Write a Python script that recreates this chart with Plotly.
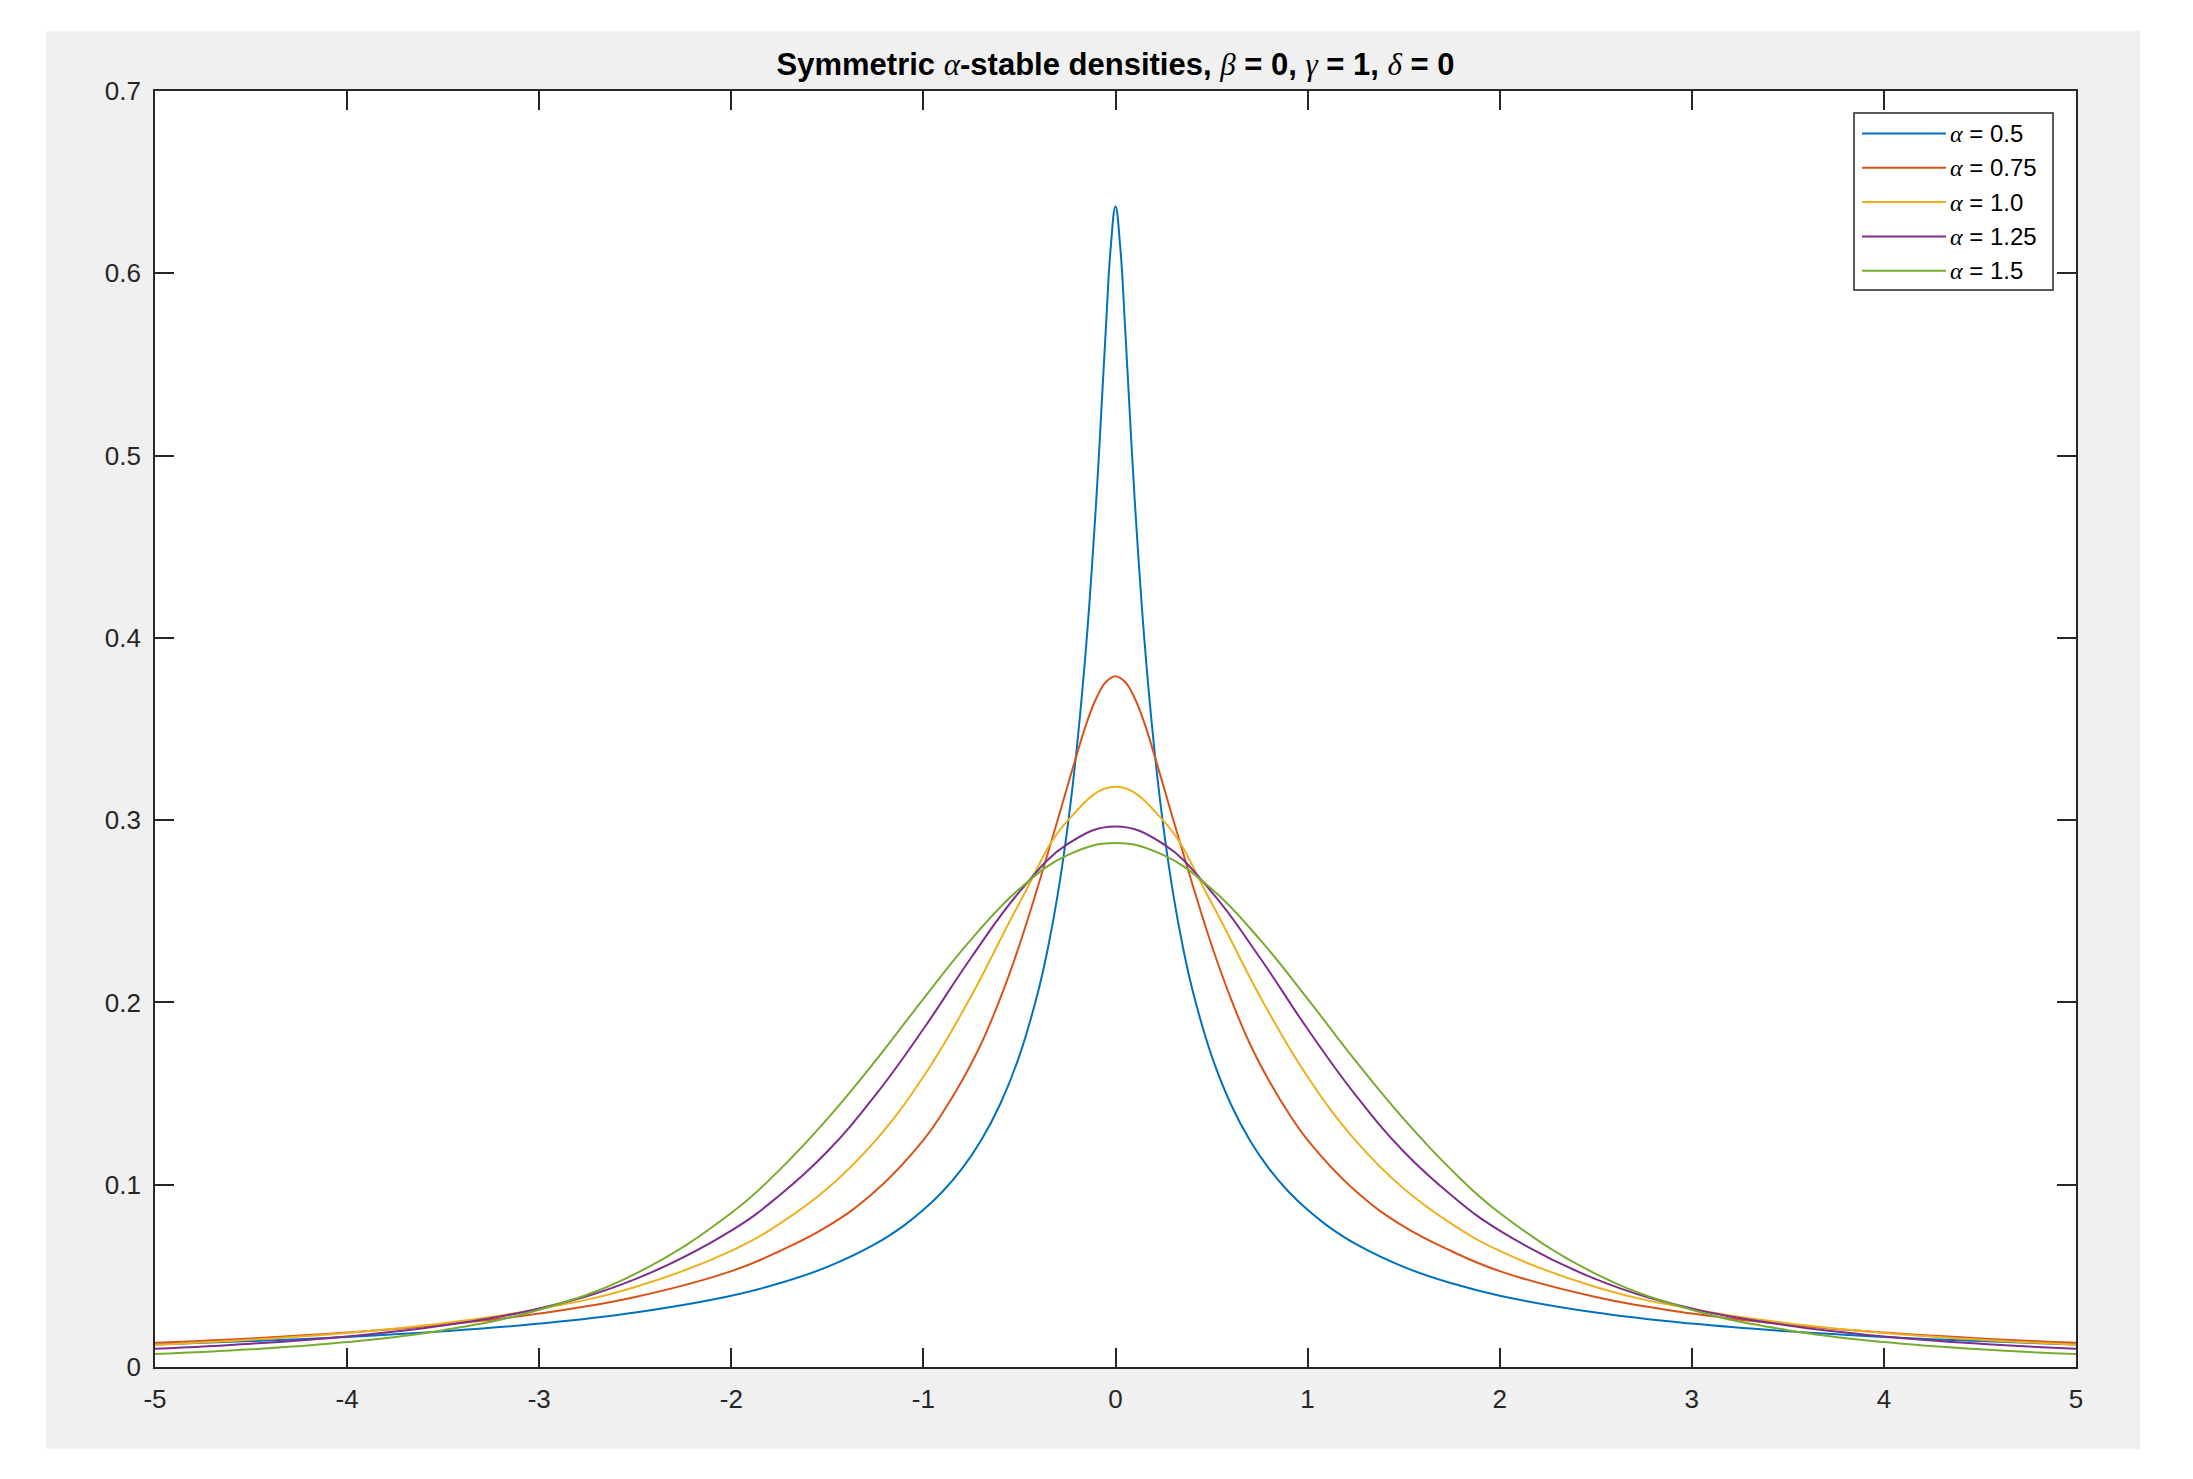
"""
Symmetric alpha-stable densities (beta = 0, gamma = 1, delta = 0),
redrawn in Plotly in the look of a MATLAB figure window.
"""

import plotly.graph_objects as go


# ── Data ──────────────────────────────────────────────────────────────────────

X_A050 = [-5, -4.5, -4, -3.5, -3, -2.5, -2, -1.75, -1.5, -1.25, -1.1, -1, -0.9,
          -0.8, -0.7, -0.6, -0.5, -0.4, -0.35, -0.3, -0.25, -0.2, -0.15, -0.1,
          -0.075, -0.05, -0.025, 0, 0.025, 0.05, 0.075, 0.1, 0.15, 0.2, 0.25, 0.3,
          0.35, 0.4, 0.5, 0.6, 0.7, 0.8, 0.9, 1, 1.1, 1.25, 1.5, 1.75, 2, 2.5, 3,
          3.5, 4, 4.5, 5]
Y_A050 = [0.0123, 0.0142, 0.0165, 0.0196, 0.0238, 0.0299, 0.0391, 0.0459, 0.0549,
          0.0675, 0.0777, 0.0862, 0.0963, 0.1087, 0.1243, 0.1443, 0.1708, 0.2071,
          0.2308, 0.2597, 0.2957, 0.3412, 0.3993, 0.4757, 0.5220, 0.5702, 0.6140,
          0.6366, 0.6140, 0.5702, 0.5220, 0.4757, 0.3993, 0.3412, 0.2957, 0.2597,
          0.2308, 0.2071, 0.1708, 0.1443, 0.1243, 0.1087, 0.0963, 0.0862, 0.0777,
          0.0675, 0.0549, 0.0459, 0.0391, 0.0299, 0.0238, 0.0196, 0.0165, 0.0142,
          0.0123]

X_A075 = [-5, -4.5, -4, -3.5, -3, -2.5, -2, -1.75, -1.5, -1.25, -1, -0.9, -0.8,
          -0.7, -0.6, -0.5, -0.4, -0.3, -0.2, -0.15, -0.1, -0.05, 0, 0.05, 0.1,
          0.15, 0.2, 0.3, 0.4, 0.5, 0.6, 0.7, 0.8, 0.9, 1, 1.25, 1.5, 1.75, 2, 2.5,
          3, 3.5, 4, 4.5, 5]
Y_A075 = [0.0133, 0.0157, 0.0189, 0.0232, 0.0293, 0.0384, 0.0526, 0.0635, 0.0771,
          0.0965, 0.1245, 0.1395, 0.1569, 0.1772, 0.2022, 0.2315, 0.2650, 0.3005,
          0.3365, 0.3534, 0.3669, 0.3758, 0.3790, 0.3758, 0.3669, 0.3534, 0.3365,
          0.3005, 0.2650, 0.2315, 0.2022, 0.1772, 0.1569, 0.1395, 0.1245, 0.0965,
          0.0771, 0.0635, 0.0526, 0.0384, 0.0293, 0.0232, 0.0189, 0.0157, 0.0133]

X_MAIN = [-5, -4.5, -4, -3.5, -3, -2.5, -2, -1.75, -1.5, -1.25, -1, -0.75, -0.5,
          -0.25, 0, 0.25, 0.5, 0.75, 1, 1.25, 1.5, 1.75, 2, 2.5, 3, 3.5, 4, 4.5, 5]
Y_A100 = [0.0122, 0.0150, 0.0187, 0.0240, 0.0318, 0.0439, 0.0637, 0.0785, 0.0979,
          0.1242, 0.1592, 0.2037, 0.2546, 0.2996, 0.3183, 0.2996, 0.2546, 0.2037,
          0.1592, 0.1242, 0.0979, 0.0785, 0.0637, 0.0439, 0.0318, 0.0240, 0.0187,
          0.0150, 0.0122]
Y_A125 = [0.0100, 0.0128, 0.0168, 0.0228, 0.0321, 0.0482, 0.0748, 0.0941, 0.1182,
          0.1491, 0.1854, 0.2248, 0.2606, 0.2868, 0.2965, 0.2868, 0.2606, 0.2248,
          0.1854, 0.1491, 0.1182, 0.0941, 0.0748, 0.0482, 0.0321, 0.0228, 0.0168,
          0.0128, 0.0100]
Y_A150 = [0.0071, 0.0097, 0.0137, 0.0202, 0.0314, 0.0511, 0.0845, 0.1080, 0.1361,
          0.1679, 0.2020, 0.2347, 0.2623, 0.2808, 0.2874, 0.2808, 0.2623, 0.2347,
          0.2020, 0.1679, 0.1361, 0.1080, 0.0845, 0.0511, 0.0314, 0.0202, 0.0137,
          0.0097, 0.0071]

ALPHA_LABELS = ["0.5", "0.75", "1.0", "1.25", "1.5"]

X_TICKS = [-5, -4, -3, -2, -1, 0, 1, 2, 3, 4, 5]
X_TICK_TEXT = ["-5", "-4", "-3", "-2", "-1", "0", "1", "2", "3", "4", "5"]
Y_TICKS = [0, 0.1, 0.2, 0.3, 0.4, 0.5, 0.6, 0.7]
Y_TICK_TEXT = ["0", "0.1", "0.2", "0.3", "0.4", "0.5", "0.6", "0.7"]


# ── Style ─────────────────────────────────────────────────────────────────────

COLORS = ["#0072BD", "#D95319", "#EDB120", "#7E2F8E", "#77AC30"]
FIG_GRAY = "#f0f0f0"
AXIS_COLOR = "#262626"
SANS = "Liberation Sans, Arial, sans-serif"
GREEK = "<span style='font-family:Liberation Serif;font-weight:normal'><i>{}</i></span>"

# page body has an 8px margin, so the figure is a bit smaller than the window
OFF = 8
W, H = 2193 - 2 * OFF, 1479 - 2 * OFF
PLOT_L, PLOT_T, PLOT_W, PLOT_H = 155 - OFF, 91 - OFF, 1921, 1276
MARGIN = dict(l=PLOT_L, t=PLOT_T, r=W - PLOT_L - PLOT_W, b=H - PLOT_T - PLOT_H)


def px_x(px: float) -> float:
    """Window pixel column -> paper x."""
    return (px - OFF - PLOT_L) / PLOT_W


def px_y(py: float) -> float:
    """Window pixel row -> paper y."""
    return (PLOT_T + PLOT_H - (py - OFF)) / PLOT_H


def greek(ch: str) -> str:
    return GREEK.format(ch)


def axis_style(**extra) -> dict:
    base = dict(
        showline=True, linecolor=AXIS_COLOR, linewidth=1.7, mirror="ticks",
        ticks="inside", ticklen=19, tickwidth=1.5, tickcolor=AXIS_COLOR,
        tickfont=dict(family=SANS, size=26, color=AXIS_COLOR),
        showgrid=False, zeroline=False, fixedrange=True,
    )
    base.update(extra)
    return base


# ── Figure ────────────────────────────────────────────────────────────────────

series = [
    (X_A050, Y_A050), (X_A075, Y_A075), (X_MAIN, Y_A100),
    (X_MAIN, Y_A125), (X_MAIN, Y_A150),
]

fig = go.Figure()
for (xs, ys), color, label in zip(series, COLORS, ALPHA_LABELS):
    fig.add_trace(go.Scatter(
        x=xs, y=ys, mode="lines", name=f"α = {label}",
        line=dict(color=color, width=2, shape="spline", smoothing=1.2),
        showlegend=False,
    ))

# figure window gray + white axes box (MATLAB look)
shapes = [
    dict(type="rect", xref="paper", yref="paper", layer="below",
         x0=px_x(46), x1=px_x(2140), y0=px_y(1449), y1=px_y(31),
         fillcolor=FIG_GRAY, line=dict(width=0)),
    dict(type="rect", xref="paper", yref="paper", layer="below",
         x0=0, x1=1, y0=0, y1=1, fillcolor="white", line=dict(width=0)),
]

# legend box, drawn by hand so the sample lines are MATLAB-long
shapes.append(dict(type="rect", xref="paper", yref="paper",
                   x0=px_x(1854), x1=px_x(2053), y0=px_y(290), y1=px_y(113),
                   fillcolor="white", line=dict(color=AXIS_COLOR, width=1.5)))
annotations = []
row_top, row_step = 133.5, 34.3
for i, (color, label) in enumerate(zip(COLORS, ALPHA_LABELS)):
    yy = px_y(row_top + i * row_step)
    shapes.append(dict(type="line", xref="paper", yref="paper",
                       x0=px_x(1862), x1=px_x(1946), y0=yy, y1=yy,
                       line=dict(color=color, width=2)))
    annotations.append(dict(
        xref="paper", yref="paper", x=px_x(1948), y=yy, xanchor="left",
        yanchor="middle", showarrow=False,
        text=f"{greek('α')} = {label}",
        font=dict(family=SANS, size=24, color="#000000"),
    ))

title = (f"Symmetric {greek('α')}-stable densities, {greek('β')} = 0, "
         f"{greek('γ')} = 1, {greek('δ')} = 0")

fig.update_layout(
    width=W, height=H, autosize=False, margin=MARGIN,
    paper_bgcolor="white", plot_bgcolor="white",
    title=dict(text=f"<b>{title}</b>", x=0.5, xref="paper",
               y=1 - (64 - OFF) / H, yref="container",
               xanchor="center", yanchor="middle",
               font=dict(family=SANS, size=31, color="#000000")),
    xaxis=axis_style(range=[-5, 5], tickvals=X_TICKS, ticktext=X_TICK_TEXT,
                     ticklabelstandoff=8),
    yaxis=axis_style(range=[0, 0.7], tickvals=Y_TICKS, ticktext=Y_TICK_TEXT,
                     ticklabelstandoff=7),
    shapes=shapes,
    annotations=annotations,
    showlegend=False,
)

fig.write_html("out.html")
